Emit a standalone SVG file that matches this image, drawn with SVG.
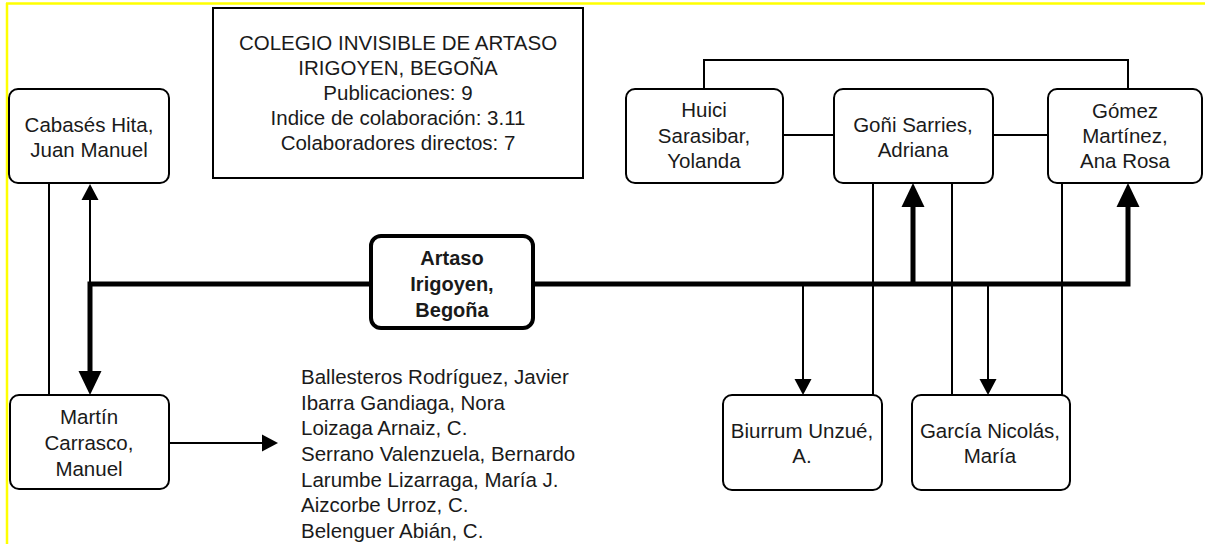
<svg xmlns="http://www.w3.org/2000/svg" width="1205" height="544" viewBox="0 0 1205 544">
<style>
.node{fill:#fff;stroke:#000;stroke-width:2}
.main{fill:#fff;stroke:#000;stroke-width:4}
.title{fill:#fff;stroke:#000;stroke-width:2}
text{font-family:"Liberation Sans",Arial,sans-serif;font-size:20.5px;fill:#1a1a1a;text-anchor:middle}
.bold{font-weight:bold;font-size:20px}
.list{text-anchor:start}
.thin{fill:none;stroke:#000;stroke-width:2}
.thick{fill:none;stroke:#000;stroke-width:5}
</style>
<defs>
<marker id="ah" markerUnits="userSpaceOnUse" markerWidth="17" markerHeight="18" refX="0" refY="8.5" orient="auto" overflow="visible">
<path d="M0,0 L16,8.5 L0,17 z" fill="#000"/>
</marker>
<marker id="ahT" markerUnits="userSpaceOnUse" markerWidth="25" markerHeight="24" refX="0" refY="11.5" orient="auto" overflow="visible">
<path d="M0,0 L24,11.5 L0,23 z" fill="#000"/>
</marker>
</defs>
<rect x="0" y="0" width="1205" height="544" fill="#fff"/>
<g id="frame" fill="none" stroke="#ffff00" stroke-width="2.5">
<line x1="6" y1="3.5" x2="1205" y2="3.5"/>
<line x1="7" y1="3" x2="7" y2="544"/>
</g>
<g id="connectors">
<path class="thin" d="M704,89 V60 H1128 V89"/>
<path class="thin" d="M783,135 H834"/>
<path class="thin" d="M993,135 H1048"/>
<path class="thin" d="M49,183 V395"/>
<path class="thin" d="M90,284 V200" marker-end="url(#ah)"/>
<path class="thin" d="M169,443 H262" marker-end="url(#ah)"/>
<path class="thin" d="M803,284 V379" marker-end="url(#ah)"/>
<path class="thin" d="M988,284 V379" marker-end="url(#ah)"/>
<path class="thin" d="M873,183 V396"/>
<path class="thin" d="M952,183 V395"/>
<path class="thin" d="M1062,178 V397"/>
<path class="thick" d="M371,284 H90 V371" marker-end="url(#ahT)"/>
<path class="thick" d="M533,284 H1128 V207" marker-end="url(#ahT)"/>
<path class="thick" d="M913,284 V207" marker-end="url(#ahT)"/>
</g>
<g id="title">
<rect class="title" x="213" y="8" width="370" height="170"/>
<text x="398" y="50">COLEGIO INVISIBLE DE ARTASO</text>
<text x="398" y="75">IRIGOYEN, BEGOÑA</text>
<text x="398" y="100">Publicaciones: 9</text>
<text x="398" y="125">Indice de colaboración: 3.11</text>
<text x="398" y="150">Colaboradores directos: 7</text>
</g>
<g id="cabases">
<rect class="node" x="9" y="89" width="160" height="94" rx="9"/>
<text x="89" y="132">Cabasés Hita,</text>
<text x="89" y="157">Juan Manuel</text>
</g>
<g id="huici">
<rect class="node" x="626" y="89" width="157" height="94" rx="9"/>
<text x="704" y="117">Huici</text>
<text x="704" y="143">Sarasibar,</text>
<text x="704" y="168">Yolanda</text>
</g>
<g id="goni">
<rect class="node" x="834" y="89" width="159" height="94" rx="9"/>
<text x="913" y="132">Goñi Sarries,</text>
<text x="913" y="157">Adriana</text>
</g>
<g id="gomez">
<rect class="node" x="1048" y="89" width="154" height="94" rx="9"/>
<text x="1125" y="118">Gómez</text>
<text x="1125" y="143">Martínez,</text>
<text x="1125" y="168">Ana Rosa</text>
</g>
<g id="artaso">
<rect class="main" x="371" y="236" width="162" height="92" rx="10"/>
<text class="bold" x="452" y="265">Artaso</text>
<text class="bold" x="452" y="291">Irigoyen,</text>
<text class="bold" x="452" y="317">Begoña</text>
</g>
<g id="martin">
<rect class="node" x="10" y="395" width="159" height="94" rx="9"/>
<text x="89" y="424">Martín</text>
<text x="89" y="450">Carrasco,</text>
<text x="89" y="476">Manuel</text>
</g>
<g id="biurrum">
<rect class="node" x="723" y="395" width="159" height="95" rx="9"/>
<text x="802" y="438">Biurrum Unzué,</text>
<text x="802" y="463">A.</text>
</g>
<g id="garcia">
<rect class="node" x="912" y="395" width="158" height="95" rx="9"/>
<text x="990" y="438">García Nicolás,</text>
<text x="990" y="463">María</text>
</g>
<g id="list">
<text class="list" x="301" y="384">Ballesteros Rodríguez, Javier</text>
<text class="list" x="301" y="410">Ibarra Gandiaga, Nora</text>
<text class="list" x="301" y="435">Loizaga Arnaiz, C.</text>
<text class="list" x="301" y="461">Serrano Valenzuela, Bernardo</text>
<text class="list" x="301" y="487">Larumbe Lizarraga, María J.</text>
<text class="list" x="301" y="512">Aizcorbe Urroz, C.</text>
<text class="list" x="301" y="538">Belenguer Abián, C.</text>
</g>
</svg>
